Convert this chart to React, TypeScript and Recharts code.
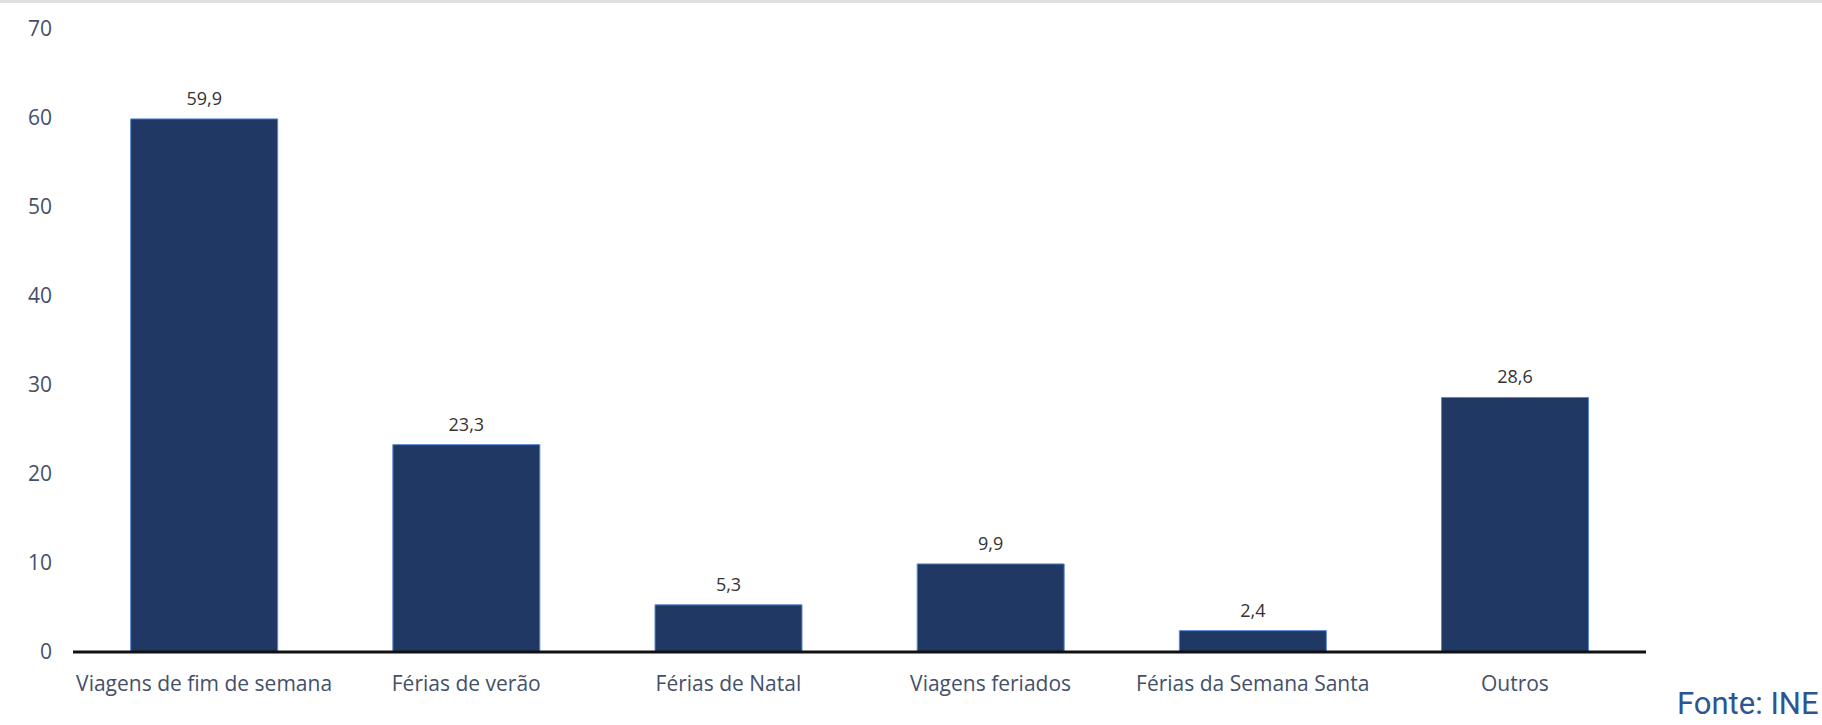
import React from 'react';
import { BarChart, Bar, XAxis, YAxis, LabelList } from 'recharts';

const categories = [
  'Viagens de fim de semana',
  'Férias de verão',
  'Férias de Natal',
  'Viagens feriados',
  'Férias da Semana Santa',
  'Outros',
];
const values = [59.9, 23.3, 5.3, 9.9, 2.4, 28.6];
const yTicks = [0, 10, 20, 30, 40, 50, 60, 70];

const data = categories.map((name, i) => ({ name, value: values[i] }));

const fmt = (v: number) => v.toFixed(1).replace('.', ',');

export default function App() {
  return (
    <div
      style={{
        position: 'absolute',
        top: 0,
        left: 0,
        width: 1822,
        height: 725,
        background: '#fff',
        overflow: 'hidden',
      }}
    >
      <div style={{ position: 'absolute', top: 0, left: 0, width: 1822, height: 3, background: '#e0e0e0' }} />
      <BarChart
        width={1822}
        height={725}
        data={data}
        margin={{ top: 29, right: 176, left: 0, bottom: 43 }}
        barCategoryGap="22%"
      >
        <XAxis
          dataKey="name"
          height={30}
          axisLine={{ stroke: '#111', strokeWidth: 3 }}
          tickLine={false}
          tickSize={0}
          tickMargin={24}
          interval={0}
          tick={{ fill: '#44506a', fontSize: 21, fontFamily: 'Open Sans' }}
        />
        <YAxis
          width={73}
          domain={[0, 70]}
          ticks={yTicks}
          axisLine={false}
          tickLine={false}
          tickSize={0}
          tickMargin={21}
          tick={{ fill: '#44506a', fontSize: 21, fontFamily: 'Open Sans' }}
        />
        <Bar
          dataKey="value"
          fill="#203864"
          stroke="#5b87d6"
          strokeWidth={1}
          isAnimationActive={false}
        >
          <LabelList
            dataKey="value"
            position="top"
            offset={14}
            formatter={(v: number) => fmt(v)}
            style={{ fill: '#333', fontSize: 18, fontFamily: 'Open Sans' }}
          />
        </Bar>
      </BarChart>
      <div
        style={{
          position: 'absolute',
          left: 1677,
          top: 688,
          fontFamily: 'Roboto',
          fontSize: 31,
          lineHeight: '31px',
          color: '#2e5590',
          whiteSpace: 'nowrap',
        }}
      >
        Fonte: INE
      </div>
    </div>
  );
}
